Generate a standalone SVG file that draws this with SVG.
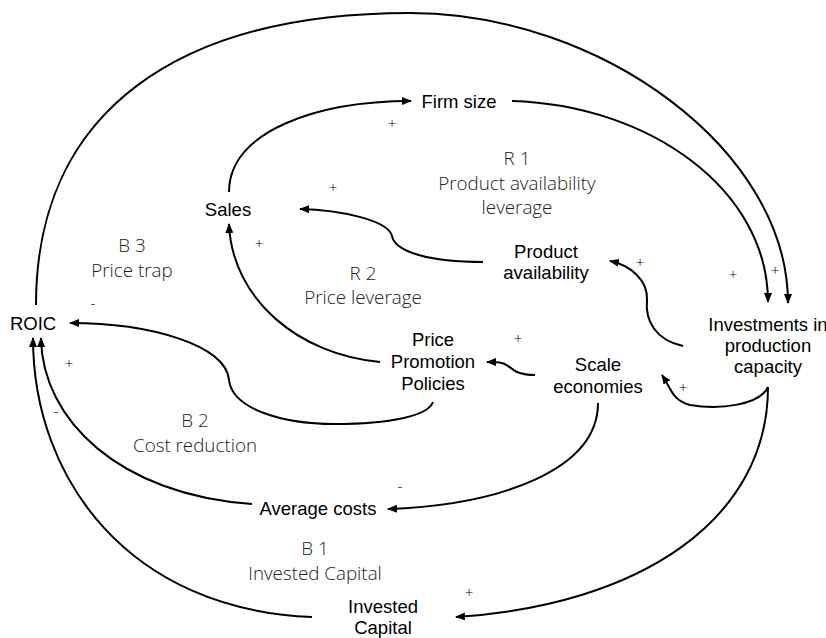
<svg xmlns="http://www.w3.org/2000/svg" width="826" height="638" viewBox="0 0 826 638">
<style>
.node{font-family:"Liberation Sans",Arial,sans-serif;font-size:18.5px;font-weight:normal;fill:#000;text-anchor:middle}
.loop{font-family:"Open Sans","Noto Sans",sans-serif;font-weight:300;font-size:18.8px;fill:#222;text-anchor:middle}
.pol{font-family:"Open Sans","Noto Sans",sans-serif;font-weight:300;font-size:15px;fill:#000;text-anchor:middle}
.c{fill:none;stroke:#000;stroke-width:2;marker-end:url(#ah)}
</style>
<defs>
<marker id="ah" viewBox="0 0 10 8" refX="9" refY="4" markerWidth="10" markerHeight="8" markerUnits="userSpaceOnUse" orient="auto">
<path d="M0,0 L10,4 L0,8 z" fill="#000"/>
</marker>
</defs>
<rect width="826" height="638" fill="#fff"/>
<g id="connectors">
<path class="c" d="M36,305 C36,110 180,13 410,13 C600,13 788,150 788,303"/>
<path class="c" d="M512,101 C650,105 768,190 768,302"/>
<path class="c" d="M229,192 C229,130 320,101 411,101"/>
<path class="c" d="M483,262 C430,262 395,252 392,236 C388,220 340,210 300,209"/>
<path class="c" d="M380,362 C300,355 232,300 229,224"/>
<path class="c" d="M433,402 C428,416 390,424 335,424 C280,424 232,408 229,380 C226,345 150,323 70,323"/>
<path class="c" d="M535,375 C515,375 512,368 508,366 C503,362 497,362 487,362"/>
<path class="c" d="M683,346 C655,340 645,320 647,300 C648,280 630,265 610,261"/>
<path class="c" d="M768,387 C760,405 720,410 690,405 C672,400 672,390 662,375"/>
<path class="c" d="M768,387 C768,520 640,605 456,617"/>
<path class="c" d="M598,403 C598,470 500,505 388,509"/>
<path class="c" d="M252,504 C120,495 42,420 41,338"/>
<path class="c" d="M312,617 C130,610 33,480 33,338"/>
</g>
<g id="firm-size"><text class="node" x="459" y="108">Firm size</text></g>
<g id="sales"><text class="node" x="228" y="216">Sales</text></g>
<g id="roic"><text class="node" x="33" y="330">ROIC</text></g>
<g id="product-availability"><text class="node" x="546" y="258">Product</text><text class="node" x="546" y="279">availability</text></g>
<g id="investments"><text class="node" x="768" y="331">Investments in</text><text class="node" x="768" y="352">production</text><text class="node" x="768" y="373">capacity</text></g>
<g id="price-promotion"><text class="node" x="433" y="346">Price</text><text class="node" x="433" y="368">Promotion</text><text class="node" x="433" y="390">Policies</text></g>
<g id="scale-economies"><text class="node" x="598" y="371">Scale</text><text class="node" x="598" y="393">economies</text></g>
<g id="average-costs"><text class="node" x="318" y="515">Average costs</text></g>
<g id="invested-capital"><text class="node" x="383" y="613">Invested</text><text class="node" x="383" y="634">Capital</text></g>
<g id="loops">
<text class="loop" x="517" y="165">R 1</text>
<text class="loop" x="517" y="190">Product availability</text>
<text class="loop" x="517" y="214">leverage</text>
<text class="loop" x="363" y="280">R 2</text>
<text class="loop" x="363" y="304">Price leverage</text>
<text class="loop" x="132" y="252">B 3</text>
<text class="loop" x="132" y="277">Price trap</text>
<text class="loop" x="195" y="427">B 2</text>
<text class="loop" x="195" y="452">Cost reduction</text>
<text class="loop" x="315" y="555">B 1</text>
<text class="loop" x="315" y="580">Invested Capital</text>
</g>
<g id="polarities">
<text class="pol" x="392" y="129">+</text>
<text class="pol" x="333" y="193">+</text>
<text class="pol" x="259" y="249">+</text>
<text class="pol" x="93" y="308">-</text>
<text class="pol" x="69" y="369">+</text>
<text class="pol" x="56" y="416">-</text>
<text class="pol" x="640" y="268">+</text>
<text class="pol" x="733" y="280">+</text>
<text class="pol" x="775" y="276">+</text>
<text class="pol" x="518" y="344">+</text>
<text class="pol" x="683" y="393">+</text>
<text class="pol" x="400" y="491">-</text>
<text class="pol" x="469" y="598">+</text>
</g>
</svg>
